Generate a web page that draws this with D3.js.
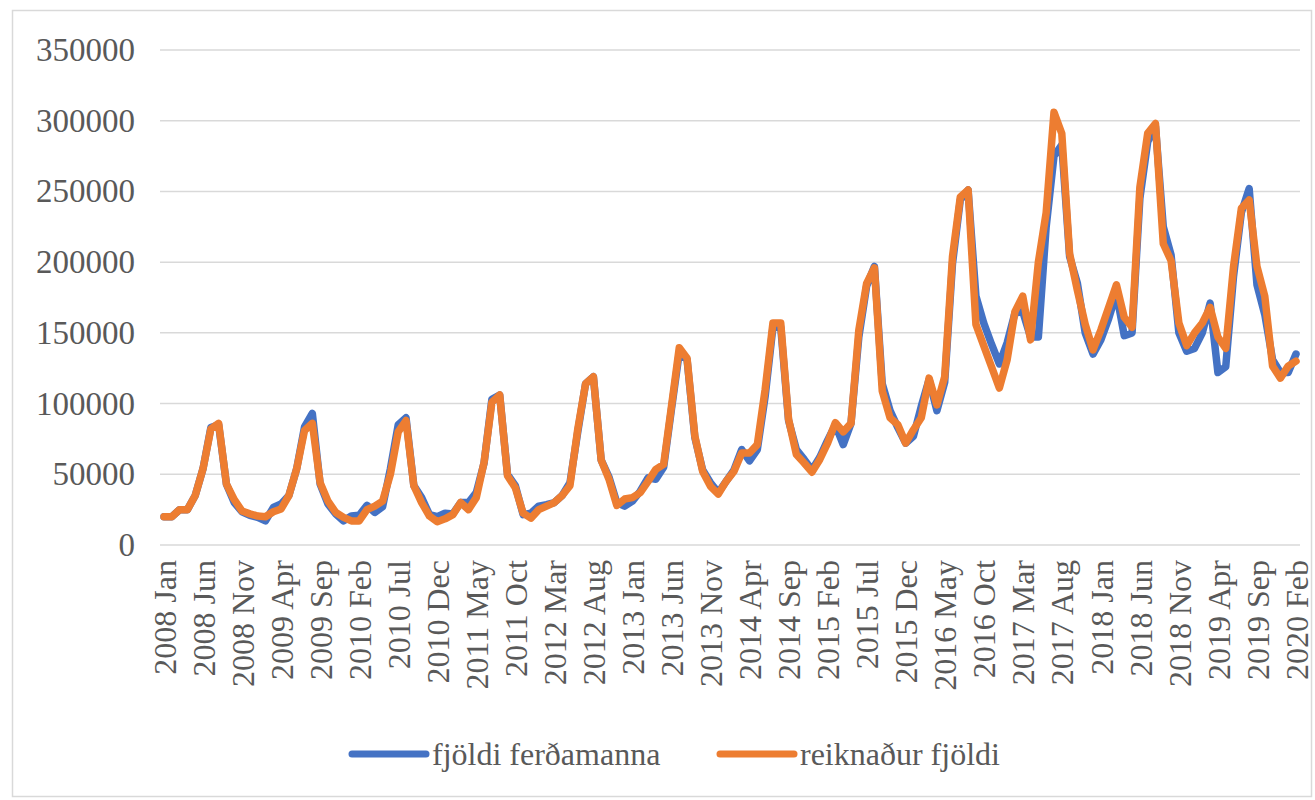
<!DOCTYPE html>
<html>
<head>
<meta charset="utf-8">
<script src="https://cdn.jsdelivr.net/npm/d3@7"></script>
<style>
  body { margin: 0; background: #fff; }
  svg text { font-family: "Liberation Serif", "Times New Roman", "DejaVu Serif", serif !important; fill: #595959; }
</style>
</head>
<body>
<svg id="chart" width="1315" height="800"></svg>
<script>
// DATA
const startYear = 2008;
const monthNames = ["Jan", "Feb", "Mar", "Apr", "May", "Jun", "Jul", "Aug", "Sep", "Oct", "Nov", "Dec"];

const ferdamenn = [
  20000, 20000, 25000, 25000, 35000, 54000, 83000, 85000, 43000, 30000, 23500, 21000,
  19500, 17000, 26500, 29000, 35000, 54000, 83500, 93000, 43000, 29000, 22000, 17000,
  20500, 21000, 28000, 23000, 27000, 54000, 85000, 90000, 42000, 33500, 21500, 20000,
  22500, 22000, 30000, 30000, 37000, 58000, 103000, 106000, 50000, 42000, 21500, 22500,
  27500, 28500, 30000, 35000, 44000, 80000, 114000, 119000, 60000, 48000, 30000, 27500,
  31000, 38000, 47500, 46500, 55000, 96000, 136000, 131000, 76000, 53000, 44000, 37000,
  45000, 53000, 67500, 59500, 67500, 105000, 154000, 154000, 88000, 67500, 60500, 53000,
  62000, 74000, 85000, 71000, 86000, 147000, 183000, 197000, 114000, 95000, 83000, 72000,
  77000, 98000, 117000, 95000, 115000, 199000, 244000, 251000, 176000, 157000, 142000, 128000,
  143000, 164000, 165000, 147000, 147000, 225000, 275000, 283000, 204000, 185000, 150000, 135000,
  145000, 160000, 178000, 148000, 150000, 245000, 285000, 296000, 225000, 205000, 150000, 137000,
  139000, 150000, 171000, 122000, 126000, 190000, 235000, 252000, 184000, 163000, 131000, 122000,
  122000, 135000
];

const reiknad = [
  20000, 20000, 25000, 25000, 35000, 54000, 82000, 86000, 43000, 32000, 24000, 22000,
  20500, 20000, 23500, 25500, 35000, 54000, 81000, 86000, 44000, 31000, 23000, 19500,
  17000, 17000, 25000, 27500, 31000, 50000, 80000, 88000, 42000, 30000, 20500, 16500,
  18500, 21500, 30000, 25000, 33500, 58500, 101000, 106000, 49000, 40500, 22500, 19000,
  25000, 27500, 30000, 35000, 42000, 82000, 114000, 119000, 60000, 46500, 28000, 32500,
  33500, 37000, 45000, 53500, 57000, 98000, 139500, 132000, 77000, 52000, 41500, 36000,
  45000, 52000, 65000, 65000, 71000, 110000, 157000, 157000, 89000, 64000, 58000, 51500,
  60500, 72000, 86500, 80000, 86000, 152000, 185000, 196000, 109000, 90000, 85000, 72000,
  81500, 90000, 118000, 99000, 119000, 204000, 246000, 251000, 156000, 141000, 126000, 111000,
  131000, 165000, 176000, 145000, 200000, 235000, 306000, 291000, 206000, 180000, 156000, 138000,
  152000, 168000, 184000, 161000, 154000, 253000, 291000, 298000, 213000, 201000, 157000, 141000,
  150000, 157000, 168000, 147000, 139000, 197000, 238000, 244000, 197000, 176000, 126500, 118000,
  126500, 130000
];

const yTicks = [0, 50000, 100000, 150000, 200000, 250000, 300000, 350000];
const seriesNames = ["fjöldi ferðamanna", "reiknaður fjöldi"];
const seriesColors = ["#4472C4", "#ED7D31"];

const categories = ferdamenn.map((d, i) =>
  `${startYear + Math.floor(i / 12)} ${monthNames[i % 12]}`);

const serif = '"Liberation Serif", "Times New Roman", "DejaVu Serif", serif';

const svg = d3.select("svg#chart");

// chart border
svg.append("rect")
  .attr("x", 12.5).attr("y", 10.5)
  .attr("width", 1299).attr("height", 786)
  .attr("fill", "none").attr("stroke", "#d9d9d9").attr("stroke-width", 1.5);

// SCALES
const x = d3.scalePoint().domain(categories).range([164, 1296]);
const y = d3.scaleLinear().domain([0, 350000]).range([545, 50]);

// gridlines
svg.append("g")
  .selectAll("line")
  .data(yTicks)
  .join("line")
  .attr("x1", 160).attr("x2", 1300)
  .attr("y1", d => y(d)).attr("y2", d => y(d))
  .attr("stroke", "#d9d9d9").attr("stroke-width", 1.5);

// AXIS
const yAxis = svg.append("g")
  .attr("transform", "translate(160,0)")
  .call(d3.axisLeft(y).tickValues(yTicks).tickFormat(d3.format("d")).tickSize(0).tickPadding(25));
yAxis.attr("font-family", null).attr("font-size", null);
yAxis.select(".domain").remove();
yAxis.selectAll("text")
  .style("font-family", serif).style("font-size", "33px").attr("fill", "#595959");

const xAxis = svg.append("g")
  .attr("transform", `translate(0,${y(0)})`)
  .call(d3.axisBottom(x).tickValues(categories.filter((d, i) => i % 5 === 0)).tickSize(0));
xAxis.attr("font-family", null).attr("font-size", null);
xAxis.select(".domain").remove();
xAxis.selectAll("text")
  .style("font-family", serif).style("font-size", "32px").attr("fill", "#595959")
  .attr("transform", "rotate(-90)")
  .attr("text-anchor", "end")
  .attr("x", -15).attr("y", 0).attr("dy", "0.35em");

// LINES
const line = d3.line()
  .x((d, i) => x(categories[i]))
  .y(d => y(d));

[ferdamenn, reiknad].forEach((series, k) => {
  svg.append("path")
    .datum(series)
    .attr("fill", "none")
    .attr("stroke", seriesColors[k])
    .attr("stroke-width", 7.5)
    .attr("stroke-linejoin", "round")
    .attr("stroke-linecap", "round")
    .attr("d", line);
});

// LEGEND
const legendX = [352, 720];
const legend = svg.append("g");
seriesNames.forEach((name, k) => {
  legend.append("line")
    .attr("x1", legendX[k]).attr("x2", legendX[k] + 74)
    .attr("y1", 754).attr("y2", 754)
    .attr("stroke", seriesColors[k]).attr("stroke-width", 7)
    .attr("stroke-linecap", "round");
  legend.append("text")
    .attr("x", legendX[k] + 80).attr("y", 754)
    .attr("dy", "0.35em")
    .style("font-family", serif).style("font-size", "32px")
    .text(name);
});
</script>
</body>
</html>
